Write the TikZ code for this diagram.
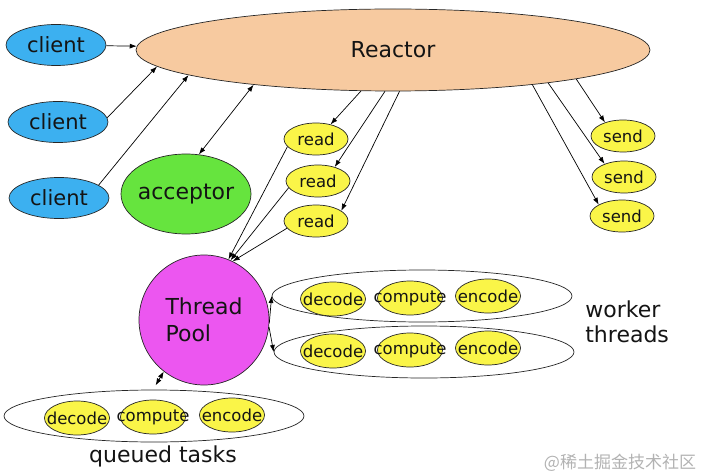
\documentclass[tikz,border=0pt]{standalone}
\usepackage{fontspec}
\setmainfont{DejaVu Sans}
\newfontfamily\cjkfont{Noto Sans CJK SC}
\usepackage{tikz}
\usetikzlibrary{shapes.geometric, arrows.meta, positioning}

\definecolor{clientblue}{RGB}{60,176,240}
\definecolor{reactorpeach}{RGB}{247,202,160}
\definecolor{acceptgreen}{RGB}{102,228,62}
\definecolor{poolmagenta}{RGB}{236,86,240}
\definecolor{taskyellow}{RGB}{250,245,72}

% word set with zero width, so that it may run over its ellipse
\newcommand{\tw}[1]{\makebox[0pt]{#1}}

\begin{document}
\begin{tikzpicture}[x=1pt, y=-1pt, line width=0.7pt,
    >={Latex[length=7pt, width=5pt]},
    blob/.style={ellipse, draw=black!85, inner sep=0pt, text=black!92},
    client/.style={blob, fill=clientblue, minimum width=100pt, minimum height=41pt,
        font=\fontsize{21}{24}\selectfont},
    reactor/.style={blob, fill=reactorpeach, minimum width=514pt, minimum height=82pt,
        font=\fontsize{22}{26}\selectfont},
    accept/.style={blob, fill=acceptgreen, minimum width=130pt, minimum height=80pt,
        font=\fontsize{22}{26}\selectfont},
    io/.style={blob, fill=taskyellow, minimum width=64pt, minimum height=32pt,
        font=\fontsize{16.5}{19}\selectfont},
    task/.style={blob, fill=taskyellow, minimum width=65pt, minimum height=34pt,
        font=\fontsize{16.5}{19}\selectfont},
    group/.style={blob, fill=white, minimum width=300pt, minimum height=52pt},
    pool/.style={circle, draw=black!85, fill=poolmagenta, minimum size=130pt, inner sep=0pt,
        align=left, text=black!92, font=\fontsize{22}{27}\selectfont},
    caption/.style={text=black!92, inner sep=0pt, font=\fontsize{22}{25}\selectfont}]

    \useasboundingbox (0,0) rectangle (711,473);

    % Reactor and the clients
    \node[reactor] (reactor) at (393,50) {\tw{Reactor}};
    \node[client] (cl1) at (56,45) {client};
    \node[client] (cl2) at (58,122) {client};
    \node[client] (cl3) at (59,198) {client};
    \node[accept] (acc) at (186,194) {\tw{acceptor}};

    % read and send handlers
    \foreach \i/\x/\y in {1/316/139, 2/318/181, 3/316/221}
        \node[io] (read\i) at (\x,\y) {read};
    \foreach \i/\x/\y in {1/623/136, 2/624/177, 3/622/216}
        \node[io] (send\i) at (\x,\y) {send};

    % Thread pool with its workers and queue
    \node[pool] (pool) at (204,320) {Thread\\Pool};
    \node[group] (wk1) at (422,296) {};
    \node[group] (wk2) at (424,352) {};
    \node[group] (queue) at (154,416) {};
    \foreach \i/\y in {1/298, 2/350} {
        \node[task] (dec\i) at (333,\y+1) {\tw{decode}};
        \node[task] (cmp\i) at (410,\y) {\tw{compute}};
        \node[task] (enc\i) at (488,\y-2) {\tw{encode}};
    }
    \node[task] (decq) at (77,418) {\tw{decode}};
    \node[task] (cmpq) at (153,417) {\tw{compute}};
    \node[task] (encq) at (232,415) {\tw{encode}};

    \node[caption, anchor=west, align=left] (wlabel) at (585,322) {worker\\threads};
    \node[caption] (qlabel) at (163,456) {queued tasks};
    \node[text=black!30, inner sep=0pt, font=\cjkfont\fontsize{17}{20}\selectfont] (mark) at (620,463) {@稀土掘金技术社区};

    % clients and acceptor to Reactor
    \draw[->] (cl1) -- (reactor);
    \draw[->] (cl2.5) -- (reactor.184);
    \draw[->] (cl3.18) -- (reactor.187);
    \draw[<->] (acc.72) -- (reactor.194);

    % Reactor to handlers
    \draw[->] (reactor.232) -- (read1.45);
    \draw[->] (reactor.259) -- (read2.40);
    \draw[->] (reactor.279) -- (read3.22);
    \draw[->] (reactor.351) -- (send1.143);
    \draw[->] (reactor.348) -- (send2.146);
    \draw[->] (reactor.346) -- (send3.154);

    % reads to the pool
    \draw[->] (read1.195) -- (pool.68);
    \draw[->] (read2.193) -- (pool.66);
    \draw[->] (read3.194) -- (pool.64);

    % pool to workers and queue
    \draw[->] (pool.357) -- (wk1.west);
    \draw[->] (pool.354) -- (wk2.west);
    \draw[<->, shorten >=5pt] (pool.232) -- (queue.92);
\end{tikzpicture}
\end{document}
